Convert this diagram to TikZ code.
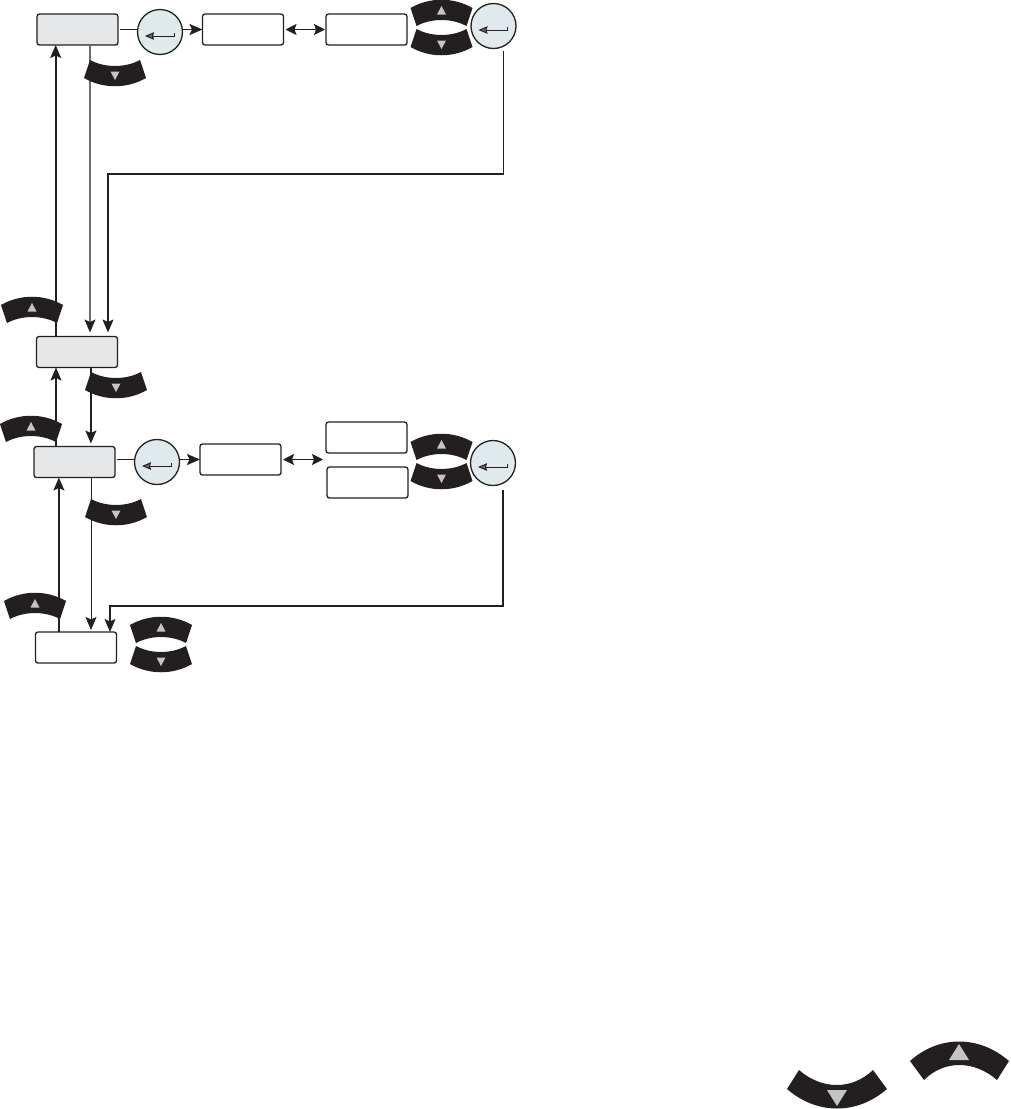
\documentclass[tikz,border=0pt]{standalone}
\usepackage{xcolor}
\usetikzlibrary{arrows.meta}
\definecolor{inkx}{HTML}{231F20}
\definecolor{boxgrey}{HTML}{E6E7E8}
\definecolor{enterbg}{HTML}{E0E9EC}
\definecolor{triax}{HTML}{C4C4C4}
\definecolor{wirex}{HTML}{6D6E70}
\tikzset{
  ar/.style={-{Stealth[length=13pt,width=11pt,inset=2.5pt]},line width=1.7pt,inkx},
  arloop/.style={-{Stealth[length=13pt,width=11pt,inset=2.5pt]},line width=1.2pt,inkx},
  arthin/.style={-{Stealth[length=13pt,width=11pt,inset=2.5pt]},line width=0.8pt,inkx},
  argrey/.style={-{Stealth[length=13pt,width=11pt,inset=2.5pt,color=inkx]},line width=1.2pt,wirex},
  both/.style={{Stealth[length=11pt,width=11pt,inset=2pt]}-{Stealth[length=11pt,width=11pt,inset=2pt]},line width=1.7pt,inkx},
  ln/.style={line width=1.7pt,inkx},
  box/.style={draw=inkx,line width=1.3pt,rounded corners=2.5pt,fill=white,minimum width=81pt,minimum height=31pt,inner sep=0pt,outer sep=0pt},
  menu/.style={box,fill=boxgrey},
  enter/.style={circle,draw=inkx,line width=1.3pt,fill=enterbg,minimum size=45pt,inner sep=0pt,outer sep=0pt,
    path picture={
      \draw[inkx,line width=1pt,-{Stealth[length=9pt,width=7.5pt,inset=1pt,fill=wirex]}]
        ([shift={(14,1)}]path picture bounding box.center) -- ++(0,3) -- ++(-29,0);
    }},
  keyup/.pic={
    \fill[inkx] (-49,0) .. controls (-20,-26) and (20,-26) .. (50,0)
      -- (38,19) .. controls (15,-1) and (-15,-1) .. (-35,19) -- cycle;
    \fill[triax] (0,-17) -- (10,-1) -- (-10,-1) -- cycle;
  },
  keydown/.pic={
    \fill[inkx] (-50,0) .. controls (-20,26) and (20,26) .. (50,0)
      -- (36,-19) .. controls (15,1) and (-15,1) .. (-38,-19) -- cycle;
    \fill[triax] (0,17) -- (10,1) -- (-10,1) -- cycle;
  },
  minidown/.pic={
    \fill[inkx] (-31,0) .. controls (-12,11) and (12,11) .. (31,0)
      -- (25,-18) .. controls (10,-10) and (-10,-10) .. (-25,-18) -- cycle;
    \fill[triax] (0,2) -- (4.5,-6.5) -- (-4.5,-6.5) -- cycle;
  },
  miniup/.pic={
    \fill[inkx] (-31,0) .. controls (-12,-11) and (12,-11) .. (31,0)
      -- (25,18) .. controls (10,10) and (-10,10) .. (-25,18) -- cycle;
    \fill[triax] (0,-2) -- (4.5,6.5) -- (-4.5,6.5) -- cycle;
  }
}
\begin{document}
\begin{tikzpicture}[x=1pt,y=-1pt]
\useasboundingbox (0,0) rectangle (1010,1109);
% first row
\node[menu] (menua) at (77.5,29.5) {};
\node[enter] (entera) at (160,32) {};
\node[box] (boxb) at (243,29.5) {};
\node[box] (boxc) at (366.5,29.5) {};
\node[enter] (enterb) at (493.5,26) {};
% second menu
\node[menu] (menub) at (77,352) {};
% third row
\node[menu] (menuc) at (74.5,462) {};
\node[enter] (enterc) at (157,462) {};
\node[box] (boxd) at (240.5,459.5) {};
\node[box] (boxe) at (366.5,437.5) {};
\node[box] (boxf) at (367.5,482.5) {};
\node[enter] (enterd) at (493,463) {};
\coordinate (pairjoin) at (323,459.5);
% last box
\node[box] (boxg) at (76,647.5) {};
% connectors
\draw[ln] ([xshift=2pt]menua.east |- boxb.west) -- (entera.west |- boxb.west);
\draw[ar] (entera.east |- boxb.west) -- (boxb.west);
\draw[both] ([xshift=2pt]boxb.east) -- ([xshift=-1pt]boxc.west);
\draw[ar] ([xshift=19.2pt]menub.north west) -- ([xshift=19.2pt]menub.north west |- menua.south);
\draw[argrey] ([xshift=53pt]menua.south west) -- ([xshift=53pt,yshift=4pt]menua.south west |- menub.north);
\draw[arloop] ([shift={(10pt,-2pt)}]enterb.south) |- (108,174) -- ([yshift=4pt]108,0 |- menub.north);
\draw[ar] ([xshift=22pt]menuc.north west) -- ([xshift=22pt]menuc.north west |- menub.south);
\draw[ar] ([xshift=54.4pt]menub.south west) -- ([xshift=54.4pt,yshift=3pt]menub.south west |- menuc.north);
\draw[ln] ([xshift=2pt]menuc.east |- boxd.west) -- (enterc.west |- boxd.west);
\draw[ar] (enterc.east |- boxd.west) -- (boxd.west);
\draw[both] ([xshift=2pt]boxd.east) -- (pairjoin);
\draw[ar] ([xshift=23.4pt]boxg.north west) -- ([xshift=23.4pt]boxg.north west |- menuc.south);
\draw[arthin] ([xshift=57pt]menuc.south west) -- ([xshift=57pt,yshift=2pt]menuc.south west |- boxg.north);
\draw[arloop] ([shift={(10pt,-4pt)}]enterd.south) |- (110,606) -- (110,0 |- boxg.north);
% keys
\pic (keya) at (115,78) {minidown};
\pic (keyb) at (441.5,8) {miniup};
\pic (keyc) at (441.5,47) {minidown};
\pic (keyd) at (32,305) {miniup};
\pic (keye) at (116,390) {minidown};
\pic (keyf) at (31,424) {miniup};
\pic (keyg) at (116,517) {minidown};
\pic (keyh) at (441.5,442) {miniup};
\pic (keyi) at (441.5,481) {minidown};
\pic (keyj) at (35,601) {miniup};
\pic (keyk) at (161,625) {miniup};
\pic (keyl) at (161,664) {minidown};
% legend
\pic (keym) at (837,1089) {keydown};
\pic (keyn) at (959,1061) {keyup};
\end{tikzpicture}
\end{document}
